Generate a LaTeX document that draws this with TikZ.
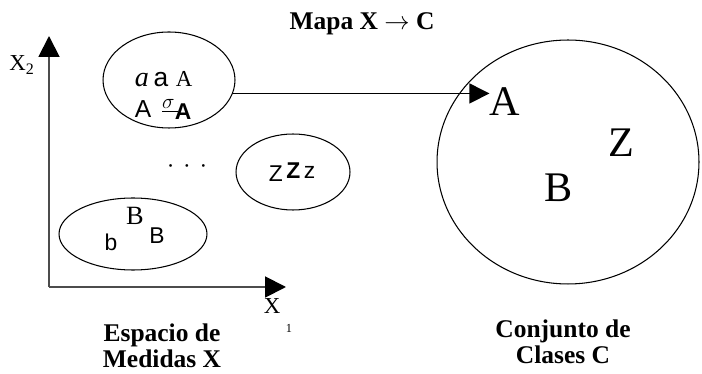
\documentclass[tikz,border=0pt]{standalone}
\usepackage{fontspec}
\setmainfont{Liberation Serif}
\setsansfont{Liberation Sans}
\usetikzlibrary{shapes.geometric,arrows.meta,positioning}

\tikzset{
	grupo/.style={draw, ellipse, line width=0.6pt, inner sep=0pt, outer sep=0pt},
	eje/.style={draw=black!70, line width=1.1pt, -{Triangle[length=0.42cm,width=0.42cm,color=black]}},
	mapa/.style={draw, line width=0.8pt, -{Triangle[length=0.4cm,width=0.4cm]}},
	rotulo/.style={font=\fontsize{14.5}{14.5}\selectfont\bfseries, align=center, inner sep=0pt},
	clase/.style={font=\fontsize{24}{24}\selectfont, inner sep=0pt},
}

\begin{document}
\begin{tikzpicture}[x=0.02cm, y=-0.02cm]
	\useasboundingbox (0,0) rectangle (702,374);
	% ejes del espacio de medidas
	\coordinate (orig) at (49,287);
	\coordinate (x2tip) at (49,36);
	\coordinate (x1tip) at (286,287);
	\draw[eje] (orig) -- (x2tip);
	\draw[eje] (orig) -- (x1tip);
	\node (x2) at (22,65) {\fontsize{13}{13}\selectfont X\textsubscript{2}};
	\node[inner sep=0pt] (x1) at (272,306) {\fontsize{13}{13}\selectfont X};
	\node[inner sep=0pt] (x1sub) at (289,328) {\fontsize{7}{7}\selectfont 1};
	%
	\node[grupo, minimum width=2.64cm, minimum height=1.92cm] (grp1) at (169,80) {};
	\node[inner sep=0pt] (a1) at (142,80) {\fontsize{16}{16}\selectfont\itshape a};
	\node[inner sep=0pt] (a2) at (161,80) {\sffamily\fontsize{15}{15}\selectfont a};
	\node[inner sep=0pt] (A1) at (184,79) {\fontsize{13}{13}\selectfont A};
	\node[inner sep=0pt] (A2) at (143,109) {\sffamily\fontsize{14}{14}\selectfont A};
	\node[inner sep=0pt] (sig) at (170,106) {\fontsize{13}{13}\selectfont$\underline{\sigma\,}$};
	\node[inner sep=0pt] (A3) at (183,112) {\sffamily\bfseries\fontsize{13}{13}\selectfont A};
	%
	\node (pts) at (187,169) {\fontsize{13}{13}\selectfont ·\hspace{5pt}·\hspace{5pt}·};
	%
	\node[grupo, minimum width=2.28cm, minimum height=1.52cm] (grp2) at (293,172) {};
	\node[inner sep=0pt] (zs) at (292,172) {\sffamily\fontsize{13}{13}\selectfont
		\raisebox{-1.5pt}{Z}\hspace{2pt}\textbf{Z}\hspace{2pt}z};
	%
	\node[grupo, minimum width=2.96cm, minimum height=1.44cm] (grp3) at (133,234) {};
	\node[inner sep=0pt] (B1) at (135,216) {\fontsize{15}{15}\selectfont B};
	\node[inner sep=0pt] (b1) at (111,242) {\sffamily\fontsize{13}{13}\selectfont b};
	\node[inner sep=0pt] (B2) at (157,236) {\sffamily\fontsize{13}{13}\selectfont B};
	%
	\node[grupo, minimum width=5.24cm, minimum height=4.88cm] (clases) at (568,162) {};
	\node[clase] (clsA) at (505,102) {A};
	\node[clase] (clsZ) at (621,143) {Z};
	\node[clase] (clsB) at (559,188) {B};
	%
	\coordinate (mapini) at (grp1.-12);
	\coordinate (mapfin) at (clsA.west |- mapini);
	\draw[mapa] (mapini) -- (mapfin);
	%
	\node[rotulo] (titulo) at (362,24) {Mapa X $\rightarrow$ C};
	\node[rotulo] (espacio) at (162,346) {Espacio de\\Medidas X};
	\node[rotulo] (conjunto) at (563,342) {Conjunto de\\Clases C};
\end{tikzpicture}
\end{document}
